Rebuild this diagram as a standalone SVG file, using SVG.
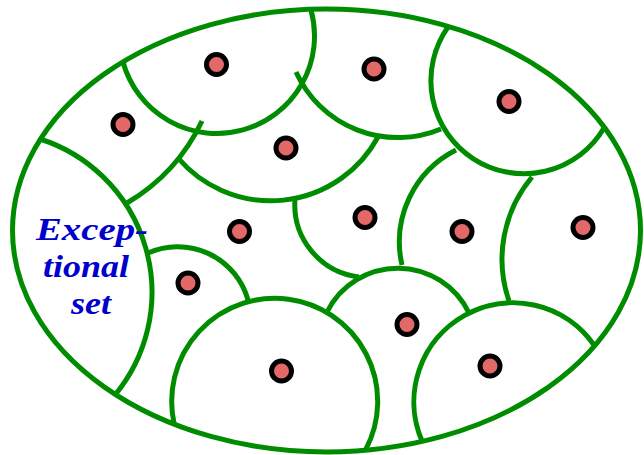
<svg xmlns="http://www.w3.org/2000/svg" width="644" height="455" viewBox="0 0 644 455">
<style>
.g{fill:none;stroke:#008c00;stroke-width:5}
.d{fill:#e36868;stroke:#000;stroke-width:5}
.t{font-family:"Liberation Serif","Times New Roman",serif;font-weight:bold;font-style:italic;font-size:31px;fill:#0000cc}
</style>
<rect width="644" height="455" fill="#fff"/>
<g id="connectors">
<ellipse class="g" cx="326.5" cy="230.5" rx="314" ry="221.5"/>
<path class="g" d="M40,139 A161,161 0 0 1 115,395"/>
<path class="g" d="M123,62 A97.5,97.5 0 0 0 311,10"/>
<path class="g" d="M296,72 A112,112 0 0 0 441,129"/>
<path class="g" d="M448,27 A93,93 0 1 0 604,128"/>
<path class="g" d="M178,158 A122,122 0 0 0 378,137"/>
<path class="g" d="M127,203 A190,190 0 0 0 202,121"/>
<path class="g" d="M295,199 A73,73 0 0 0 359,277"/>
<path class="g" d="M456,150 A103,103 0 0 0 402,265"/>
<path class="g" d="M532,177 A128,128 0 0 0 509,301"/>
<path class="g" d="M422,441 A99,99 0 0 1 594,345"/>
<path class="g" d="M327,312 A79,79 0 0 1 469,313"/>
<path class="g" d="M174,423 A103,103 0 1 1 366,449"/>
<path class="g" d="M148,253 A73,73 0 0 1 248,300"/>
</g>
<g id="exceptional">
<text class="t" x="36" y="240" textLength="112" lengthAdjust="spacingAndGlyphs">Excep-</text>
<text class="t" x="43" y="277" textLength="86" lengthAdjust="spacingAndGlyphs">tional</text>
<text class="t" x="71" y="314" textLength="40" lengthAdjust="spacingAndGlyphs">set</text>
</g>
<g id="p1"><circle class="d" cx="216.5" cy="64.5" r="10"/></g>
<g id="p2"><circle class="d" cx="374" cy="69" r="10"/></g>
<g id="p3"><circle class="d" cx="509" cy="101.5" r="10"/></g>
<g id="p4"><circle class="d" cx="123" cy="124.5" r="10"/></g>
<g id="p5"><circle class="d" cx="286" cy="148" r="10"/></g>
<g id="p6"><circle class="d" cx="365" cy="217.5" r="10"/></g>
<g id="p7"><circle class="d" cx="239.5" cy="231.5" r="10"/></g>
<g id="p8"><circle class="d" cx="462" cy="231.5" r="10"/></g>
<g id="p9"><circle class="d" cx="583" cy="227.5" r="10"/></g>
<g id="p10"><circle class="d" cx="188" cy="283" r="10"/></g>
<g id="p11"><circle class="d" cx="407" cy="324.5" r="10"/></g>
<g id="p12"><circle class="d" cx="281.5" cy="371" r="10"/></g>
<g id="p13"><circle class="d" cx="490" cy="366" r="10"/></g>
</svg>
